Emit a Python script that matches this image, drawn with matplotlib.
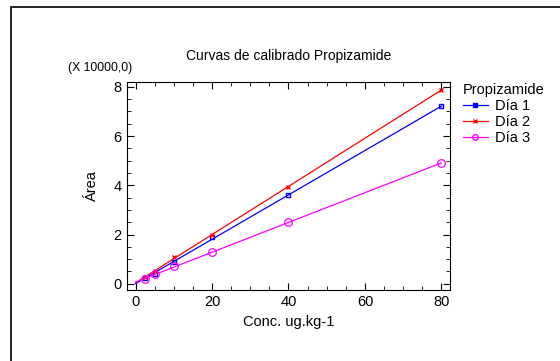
import numpy as np
import matplotlib.pyplot as plt
from matplotlib.patches import Rectangle
from matplotlib.ticker import MultipleLocator

plt.rcParams['font.family'] = ['Liberation Sans', 'DejaVu Sans']
plt.rcParams['font.size'] = 10

conc = [2.5, 5, 10, 20, 40, 80]
dia1 = [0.23, 0.41, 0.88, 1.90, 3.59, 7.21]
dia2 = [0.26, 0.53, 1.08, 1.97, 3.92, 7.89]
dia3 = [0.19, 0.38, 0.71, 1.27, 2.49, 4.91]
series = [('Día 1', dia1, 'blue', 's'), ('Día 2', dia2, 'red', 'x'), ('Día 3', dia3, 'magenta', 'o')]

fig = plt.figure(figsize=(5.6, 3.61), dpi=100)
# marco exterior
fig.patches.append(Rectangle((11 / 560, -0.1), 1.2, 1 - 7 / 361 + 0.1, transform=fig.transFigure,
                             fill=False, edgecolor='black', linewidth=1.2))

ax = fig.add_axes([0.227, 0.197, 0.577, 0.576])
xs = np.array([0, 80])
for nombre, vals, color, mk in series:
    a, b = np.polyfit(conc, vals, 1)
    ax.plot(xs, a * xs + b, color=color, linewidth=0.9)
    if mk == 'o':
        ax.plot(conc, vals, linestyle='none', marker=mk, markersize=5.5, markerfacecolor='none',
                markeredgecolor=color, markeredgewidth=0.9)
    else:
        ax.plot(conc, vals, linestyle='none', marker=mk, markersize=3.5, markerfacecolor='none',
                markeredgecolor=color, markeredgewidth=1.0)
    ax.plot([], [], color=color, marker=mk, markersize=4 if mk == 'o' else 3,
            markerfacecolor='none' if mk == 'o' else color, linewidth=0.9, label=nombre)

ax.set_xlim(-2.2, 82.3)
ax.set_ylim(-0.25, 8.2)
ax.set_xticks([0, 20, 40, 60, 80])
ax.set_yticks([0, 2, 4, 6, 8])
ax.xaxis.set_minor_locator(MultipleLocator(5))
ax.yaxis.set_minor_locator(MultipleLocator(0.5))
ax.tick_params(which='both', direction='in', top=True, right=True, labelsize=10.5)
ax.tick_params(which='major', length=5, pad=4)
ax.tick_params(which='minor', length=3)

ax.set_title('Curvas de calibrado Propizamide', fontsize=10, pad=16)
ax.set_xlabel('Conc. ug.kg-1', fontsize=10.5, labelpad=4)
ax.set_ylabel('Área', fontsize=10.5, labelpad=10)
fig.text(68 / 560, 1 - 68 / 361, '(X 10000,0)', fontsize=8.8, va='center', ha='left')

leg = ax.legend(title='Propizamide', loc='upper left', bbox_to_anchor=(1.008, 1.045), frameon=False,
                fontsize=10.5, title_fontsize=10.5, handlelength=1.7, handletextpad=0.5,
                labelspacing=0.14, borderaxespad=0.5, borderpad=0.2)
leg._legend_box.align = 'left'

fig.savefig('out.png', dpi=100)
